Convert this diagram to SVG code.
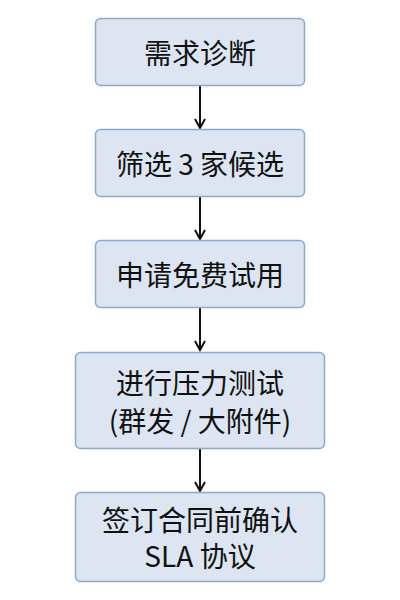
<svg xmlns="http://www.w3.org/2000/svg" width="400" height="600" viewBox="0 0 400 600">
<defs>
<style>
.box{fill:#dce5f1;stroke:#8fa9cc;stroke-width:1.5}
.t{font-family:"Noto Sans CJK SC","Noto Sans",sans-serif;font-size:28px;fill:#111;text-anchor:middle;dominant-baseline:central}
.c{stroke:#111;stroke-width:2;fill:none}
</style>
<marker id="ah" viewBox="0 0 12 12" refX="10" refY="6" markerWidth="12" markerHeight="12" markerUnits="userSpaceOnUse" orient="auto">
<path d="M1,1 L10,6 L1,11" fill="none" stroke="#111" stroke-width="2"/>
</marker>
</defs>
<rect width="400" height="600" fill="#fff"/>
<g id="connectors">
<line class="c" x1="200" y1="86" x2="200" y2="128" marker-end="url(#ah)"/>
<line class="c" x1="200" y1="197" x2="200" y2="239" marker-end="url(#ah)"/>
<line class="c" x1="200" y1="308" x2="200" y2="350" marker-end="url(#ah)"/>
<line class="c" x1="200" y1="449" x2="200" y2="491" marker-end="url(#ah)"/>
</g>
<g id="n1"><rect class="box" x="95.5" y="18.5" width="209" height="67" rx="5"/><text class="t" x="200" y="52">需求诊断</text></g>
<g id="n2"><rect class="box" x="95.5" y="129.5" width="209" height="67" rx="5"/><text class="t" x="200" y="163">筛选 3 家候选</text></g>
<g id="n3"><rect class="box" x="95.5" y="240.5" width="209" height="67" rx="5"/><text class="t" x="200" y="274">申请免费试用</text></g>
<g id="n4"><rect class="box" x="75.5" y="352.5" width="249" height="96" rx="5"/><text class="t" x="200" y="382">进行压力测试</text><text class="t" x="200" y="420">(群发 / 大附件)</text></g>
<g id="n5"><rect class="box" x="75.5" y="492.5" width="249" height="89" rx="5"/><text class="t" x="200" y="519">签订合同前确认</text><text class="t" x="200" y="555">SLA 协议</text></g>
</svg>
